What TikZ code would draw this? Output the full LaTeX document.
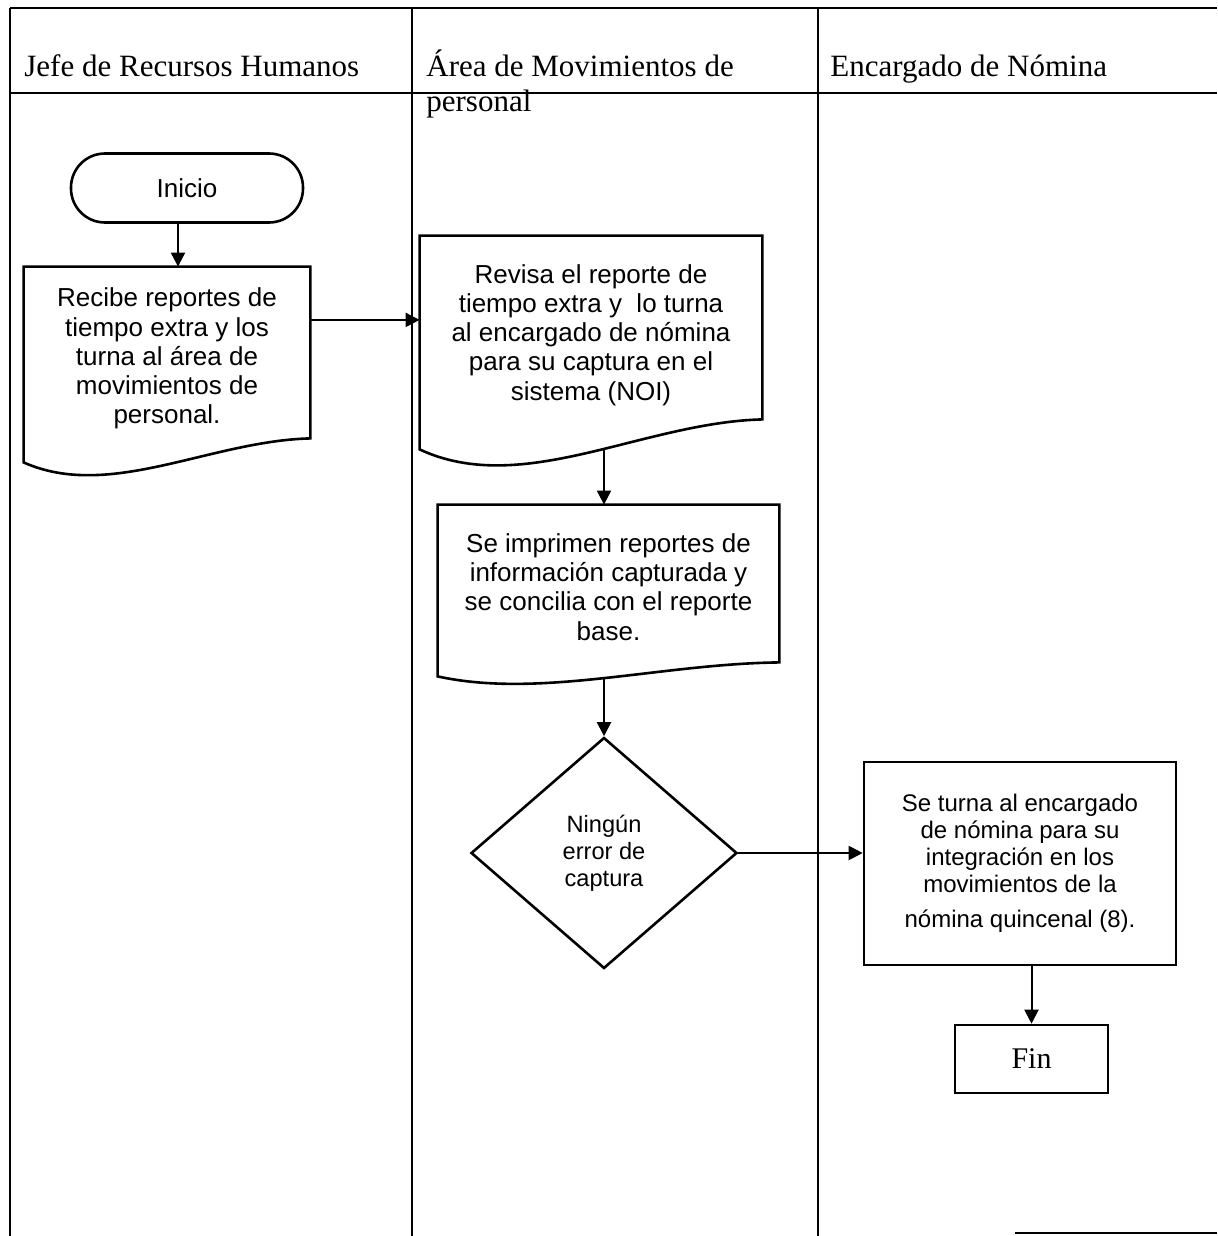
\documentclass[tikz,border=0pt]{standalone}
\usepackage{fontspec}
\setmainfont{Liberation Serif}
\newfontfamily\arialfont{Liberation Sans}
\usetikzlibrary{shapes.geometric,arrows.meta,calc}
\pgfdeclarelayer{background}
\pgfsetlayers{background,main}
\tikzset{
  laneline/.style={line width=1pt},
  shapeline/.style={draw,line width=1.3pt,fill=white},
  bodytext/.style={font=\arialfont\fontsize{13}{14.6}\selectfont,align=center,inner sep=0pt},
  headtext/.style={font=\fontsize{15.5}{17.5}\selectfont,anchor=base west,inner sep=0pt},
  docbox/.style={bodytext,rectangle},
  flowarrow/.style={line width=1pt,-{Triangle[length=7pt,width=7pt]}}
}
% documento con borde inferior ondulado
\newcommand{\docwave}[2]{%
  \draw[shapeline] (#1.north west) -- (#1.north east) -- ($(#1.south east)+(0,-#2)$)
    .. controls ($(#1.south west)!0.65!(#1.south east)+(0,-0.8*#2)$)
    and ($(#1.south west)!0.3!(#1.south east)+(0,4.2*#2)$) .. ($(#1.south west)+(0,#2)$) -- cycle;}
\begin{document}
\begin{tikzpicture}[x=0.5pt,y=-0.5pt]
\useasboundingbox (0,0) rectangle (1217,1236);
% carriles
\draw[laneline] (10,8) -- (1217,8);
\draw[laneline] (10,93) -- (1217,93);
\draw[laneline] (10,8) -- (10,1236);
\draw[laneline] (412,8) -- (412,1236);
\draw[laneline] (818,8) -- (818,1236);
\draw[laneline] (1015,1233) -- (1217,1233);
% encabezados
\node[headtext] (jefe) at (24,76) {Jefe de Recursos Humanos};
\node[headtext] (area) at (426,77) {Área de Movimientos de};
\node[headtext] (areab) at (426,112) {personal};
\node[headtext] (nomina) at (830,76) {Encargado de Nómina};
% pasos
\node[shapeline,bodytext,rounded corners=17pt,minimum width=116pt,minimum height=34.5pt] (ini) at (187,188) {Inicio};
\node[docbox,minimum width=143pt,minimum height=91.5pt] (rec) at (167,358.5)
  {Recibe reportes de\\tiempo extra y los\\turna al área de\\movimientos de\\personal.};
\node[docbox,minimum width=171pt,minimum height=99pt] (revisa) at (591,335)
  {Revisa el reporte de\\tiempo extra y\ \ lo turna\\al encargado de nómina\\para su captura en el\\sistema (NOI)};
\node[docbox,minimum width=170.5pt,minimum height=82pt] (imprime) at (608.5,587)
  {Se imprimen reportes de\\información capturada y\\se concilia con el reporte\\base.};
\node[shapeline,diamond,bodytext,font=\arialfont\fontsize{11.8}{13.5}\selectfont,minimum width=133pt,minimum height=115.5pt] (dec) at (604,853)
  {Ningún\\error de\\captura};
\node[shapeline,bodytext,font=\arialfont\fontsize{12}{13.5}\selectfont,minimum width=156pt,minimum height=101.5pt] (turna) at (1020,863.5)
  {Se turna al encargado\\de nómina para su\\integración en los\\movimientos de la\\[4pt]nómina quincenal (8).};
\node[shapeline,font=\fontsize{15}{17}\selectfont,inner sep=0pt,minimum width=76.5pt,minimum height=34pt] (fin) at (1031.5,1059) {Fin};
\begin{pgfonlayer}{background}
\draw[flowarrow] ($(ini.south)+(-9,0)$) coordinate (iniout) -- (iniout |- rec.north);
\draw[flowarrow] ($(rec.north east)!0.29!(rec.south east)$) coordinate (recout) -- (recout -| revisa.west);
\draw[flowarrow] (revisa.center -| dec.north) -- (imprime.north -| dec.north);
\draw[flowarrow] (imprime.center -| dec.north) -- (dec.north);
\draw[flowarrow] (dec.east) -- (dec.east -| turna.west);
\draw[flowarrow] (turna.south -| fin.north) -- (fin.north);
\docwave{rec}{12}
\docwave{revisa}{15}
\docwave{imprime}{7}
\end{pgfonlayer}
\end{tikzpicture}
\end{document}
